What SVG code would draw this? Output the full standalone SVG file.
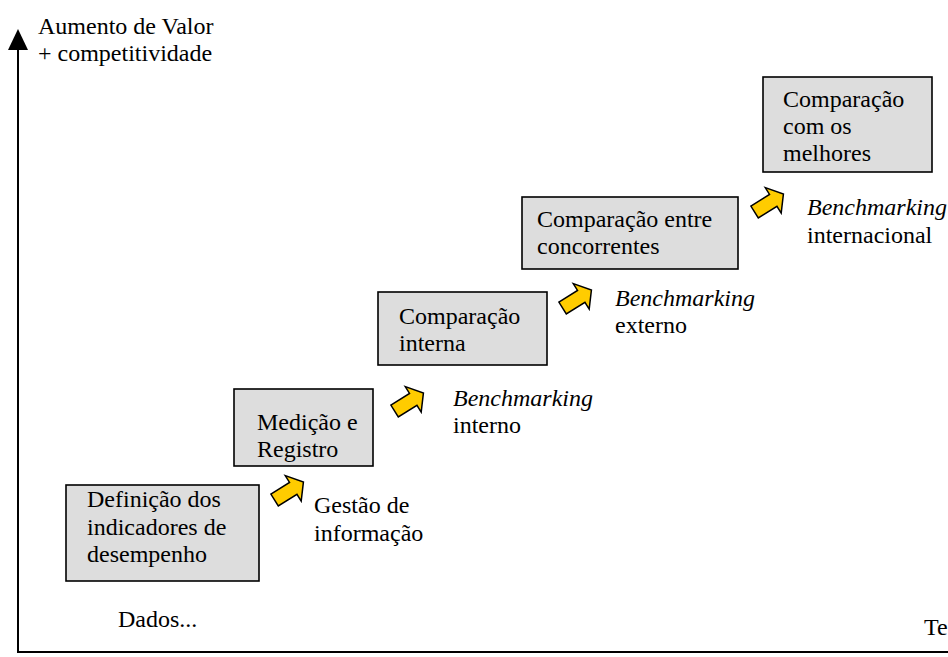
<svg xmlns="http://www.w3.org/2000/svg" width="948" height="657" viewBox="0 0 948 657">
<style>
text{font-family:"Liberation Serif","Times New Roman",serif;font-size:24px;fill:#000}
.it{font-style:italic}
.box{fill:#DDDDDD;stroke:#000;stroke-width:1.6}
.arr{fill:#FFCC00;stroke:#000;stroke-width:1.5;stroke-linejoin:miter}
.axis{stroke:#000;stroke-width:2;fill:none}
</style>
<defs>
<polygon id="blk" points="-17,-7 5,-7 5,-15 17,0 5,15 5,7 -17,7"/>
</defs>
<rect width="948" height="657" fill="#fff"/>
<g id="axes">
<line class="axis" x1="18" y1="46" x2="18" y2="653"/>
<line class="axis" x1="17" y1="652" x2="948" y2="652"/>
<polygon points="18,29 8,50 28,50" fill="#000"/>
<text x="38" y="34">Aumento de Valor</text>
<text x="38" y="61">+ competitividade</text>
<text x="118" y="627">Dados...</text>
<text x="924" y="635">Te</text>
</g>
<g id="node1">
<rect class="box" x="66" y="485" width="193" height="96"/>
<text x="87" y="507">Definição dos</text>
<text x="87" y="535">indicadores de</text>
<text x="87" y="562">desempenho</text>
</g>
<g id="node2">
<rect class="box" x="234" y="389" width="139" height="77"/>
<text x="257" y="430">Medição e</text>
<text x="257" y="457">Registro</text>
</g>
<g id="node3">
<rect class="box" x="378" y="292" width="169" height="73"/>
<text x="399" y="324">Comparação</text>
<text x="399" y="351">interna</text>
</g>
<g id="node4">
<rect class="box" x="522" y="197" width="216" height="72"/>
<text x="537" y="227">Comparação entre</text>
<text x="537" y="254">concorrentes</text>
</g>
<g id="node5">
<rect class="box" x="763" y="77" width="169" height="95"/>
<text x="783" y="107">Comparação</text>
<text x="783" y="134">com os</text>
<text x="783" y="161">melhores</text>
</g>
<g id="connectors">
<use href="#blk" class="arr" transform="translate(289,491) rotate(-32)"/>
<use href="#blk" class="arr" transform="translate(409,402) rotate(-32)"/>
<use href="#blk" class="arr" transform="translate(577,299) rotate(-32)"/>
<use href="#blk" class="arr" transform="translate(769,203) rotate(-32)"/>
</g>
<g id="labels">
<text x="314" y="513">Gestão de</text>
<text x="314" y="541">informação</text>
<text class="it" x="453" y="406">Benchmarking</text>
<text x="453" y="433">interno</text>
<text class="it" x="615" y="306">Benchmarking</text>
<text x="615" y="333">externo</text>
<text class="it" x="807" y="215">Benchmarking</text>
<text x="807" y="243">internacional</text>
</g>
</svg>
